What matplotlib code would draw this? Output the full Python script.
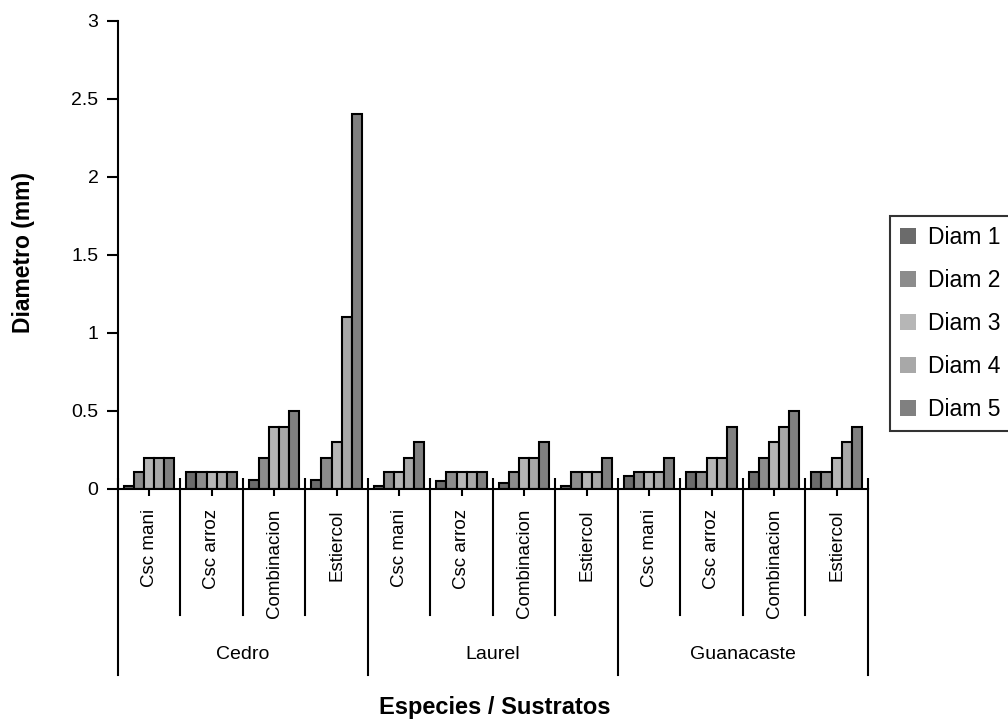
import numpy as np
import matplotlib
matplotlib.use('Agg')
import matplotlib.pyplot as plt
from matplotlib.transforms import blended_transform_factory

plt.rcParams['font.family'] = ['Liberation Sans', 'DejaVu Sans']

especies = ['Cedro', 'Laurel', 'Guanacaste']
sustratos = ['Csc mani', 'Csc arroz', 'Combinacion', 'Estiercol']
series = ['Diam 1', 'Diam 2', 'Diam 3', 'Diam 4', 'Diam 5']

# 12 groups: Cedro x4, Laurel x4, Guanacaste x4
diam1 = [0.02, 0.11, 0.06, 0.06, 0.02, 0.05, 0.04, 0.02, 0.08, 0.11, 0.11, 0.11]
diam2 = [0.11, 0.11, 0.20, 0.20, 0.11, 0.11, 0.11, 0.11, 0.11, 0.11, 0.20, 0.11]
diam3 = [0.20, 0.11, 0.40, 0.30, 0.11, 0.11, 0.20, 0.11, 0.11, 0.20, 0.30, 0.20]
diam4 = [0.20, 0.11, 0.40, 1.10, 0.20, 0.11, 0.20, 0.11, 0.11, 0.20, 0.40, 0.30]
diam5 = [0.20, 0.11, 0.50, 2.40, 0.30, 0.11, 0.30, 0.20, 0.20, 0.40, 0.50, 0.40]

colores = ['#6b6b6b', '#8c8c8c', '#b6b6b6', '#a8a8a8', '#808080']

fig = plt.figure(figsize=(10.08, 7.19), dpi=100)
ax = fig.add_axes([0.117, 0.32, 0.744, 0.651])

n = len(sustratos) * len(especies)
x = np.arange(n) + 0.5
w = 0.162
datos = [diam1, diam2, diam3, diam4, diam5]
for i, (vals, c, lab) in enumerate(zip(datos, colores, series)):
    ax.bar(x + (i - 2) * w, vals, w, color=c, edgecolor='black', linewidth=1.5, label=lab)

ax.set_xlim(0, n)
ax.set_ylim(0, 3)
ax.set_yticks([0, 0.5, 1, 1.5, 2, 2.5, 3])
ax.set_yticklabels(['0', '0.5', '1', '1.5', '2', '2.5', '3'], fontsize=14)
ax.tick_params(axis='y', direction='out', length=8, width=1.5, pad=6)
ax.spines['top'].set_visible(False)
ax.spines['right'].set_visible(False)
ax.spines['left'].set_linewidth(1.5)
ax.spines['bottom'].set_linewidth(1.5)

# ticks on category axis
ax.set_xticks(np.arange(n + 1))
ax.set_xticklabels([])
ax.set_xticks(x, minor=True)
ax.tick_params(axis='x', which='major', direction='in', length=8, width=1.5)
ax.tick_params(axis='x', which='minor', direction='out', length=5, width=1.5)

tr = blended_transform_factory(ax.transData, ax.transAxes)
for k in range(n + 1):
    bottom = -0.397 if k % 4 == 0 else -0.269
    ax.plot([k, k], [0, bottom], color='black', lw=1.5, transform=tr, clip_on=False)
for k in range(n):
    ax.text(x[k], -0.043, sustratos[k % 4], rotation=90, ha='center', va='top',
            fontsize=13.5, transform=tr)
for j, esp in enumerate(especies):
    ax.text(j * 4 + 2, -0.354, esp, ha='center', va='center', fontsize=14, transform=tr)

fig.text(0.023, 0.649, 'Diametro (mm)', rotation=90, ha='center', va='center',
         fontsize=16.5, fontweight='bold')
fig.text(0.491, 0.0153, 'Especies / Sustratos', ha='center', va='center',
         fontsize=17, fontweight='bold')

leg = fig.legend(loc='upper left', bbox_to_anchor=(0.883, 0.70), fontsize=16.5,
                 frameon=True, fancybox=False, handlelength=0.7, handleheight=0.7,
                 handletextpad=0.52, labelspacing=0.87, borderpad=0.45,
                 borderaxespad=0)
leg.get_frame().set_edgecolor('black')
leg.get_frame().set_linewidth(1.5)
for h in leg.legend_handles:
    h.set_edgecolor('none')

fig.savefig('out.png', dpi=100)
